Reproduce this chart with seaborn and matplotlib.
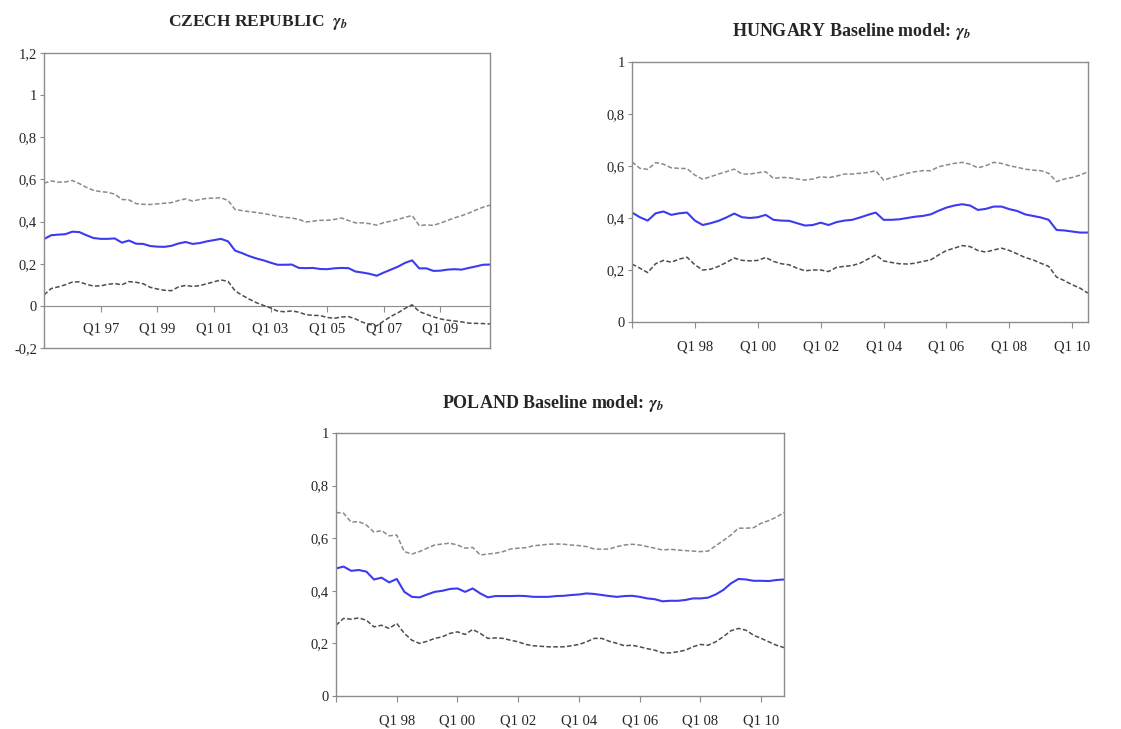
import matplotlib
matplotlib.use("Agg")
import matplotlib.pyplot as plt
import seaborn as sns
from matplotlib.ticker import FuncFormatter

sns.set_style("white")
plt.rcParams['font.family'] = ['Liberation Serif', 'DejaVu Serif']
plt.rcParams['mathtext.fontset'] = 'stix'

# Czech Republic, Q1 1995 - Q4 2010
cz_mid = [0.317, 0.335, 0.338, 0.34, 0.352, 0.350, 0.335, 0.322, 0.318, 0.318, 0.32, 0.30, 0.31, 0.295,
          0.294, 0.284, 0.281, 0.28, 0.285, 0.296, 0.303, 0.294, 0.298, 0.306, 0.312, 0.318, 0.306, 0.262,
          0.25, 0.236, 0.225, 0.216, 0.205, 0.195, 0.195, 0.196, 0.18, 0.179, 0.18, 0.175, 0.174, 0.178,
          0.18, 0.179, 0.163, 0.158, 0.152, 0.143, 0.158, 0.172, 0.186, 0.204, 0.216, 0.178, 0.178, 0.166,
          0.167, 0.172, 0.174, 0.172, 0.18, 0.187, 0.195, 0.196]
cz_up = [0.582, 0.593, 0.587, 0.588, 0.595, 0.58, 0.562, 0.548, 0.542, 0.539, 0.53, 0.505, 0.503, 0.485,
         0.482, 0.481, 0.484, 0.487, 0.49, 0.5, 0.508, 0.497, 0.505, 0.51, 0.511, 0.513, 0.5, 0.457,
         0.452, 0.447, 0.443, 0.438, 0.432, 0.425, 0.42, 0.417, 0.41, 0.398, 0.402, 0.406, 0.406, 0.41,
         0.417, 0.405, 0.394, 0.394, 0.39, 0.383, 0.395, 0.402, 0.41, 0.42, 0.429, 0.381, 0.384, 0.382,
         0.393, 0.405, 0.418, 0.428, 0.44, 0.455, 0.468, 0.478]
cz_lo = [0.052, 0.082, 0.09, 0.1, 0.113, 0.114, 0.102, 0.094, 0.095, 0.102, 0.106, 0.1, 0.115, 0.112,
         0.105, 0.088, 0.08, 0.074, 0.072, 0.09, 0.097, 0.092, 0.096, 0.105, 0.114, 0.123, 0.116, 0.071,
         0.05, 0.032, 0.015, 0.002, -0.01, -0.025, -0.028, -0.024, -0.03, -0.042, -0.045, -0.046, -0.055,
         -0.059, -0.053, -0.051, -0.062, -0.078, -0.088, -0.095, -0.072, -0.05, -0.033, -0.012, 0.005,
         -0.027, -0.04, -0.052, -0.062, -0.068, -0.072, -0.076, -0.082, -0.083, -0.084, -0.086]

# Hungary, Q1 1996 - Q3 2010
hu_mid = [0.421, 0.403, 0.39, 0.418, 0.425, 0.412, 0.418, 0.421, 0.39, 0.373, 0.38, 0.389, 0.402, 0.417,
          0.403, 0.4, 0.403, 0.412, 0.393, 0.39, 0.389, 0.38, 0.371, 0.373, 0.382, 0.373, 0.384, 0.39,
          0.393, 0.402, 0.412, 0.421, 0.393, 0.393, 0.395, 0.4, 0.405, 0.408, 0.414, 0.428, 0.44, 0.448,
          0.453, 0.448, 0.431, 0.435, 0.444, 0.444, 0.434, 0.427, 0.414, 0.408, 0.402, 0.393, 0.354,
          0.352, 0.348, 0.344, 0.344]
hu_up = [0.616, 0.591, 0.587, 0.613, 0.607, 0.593, 0.591, 0.59, 0.565, 0.549, 0.559, 0.569, 0.578, 0.588,
         0.569, 0.569, 0.574, 0.578, 0.552, 0.556, 0.555, 0.55, 0.546, 0.55, 0.559, 0.555, 0.561, 0.569,
         0.569, 0.572, 0.575, 0.582, 0.546, 0.555, 0.563, 0.572, 0.578, 0.582, 0.582, 0.597, 0.604, 0.61,
         0.614, 0.607, 0.593, 0.601, 0.614, 0.61, 0.601, 0.595, 0.588, 0.584, 0.582, 0.572, 0.54, 0.55,
         0.556, 0.565, 0.578]
hu_lo = [0.223, 0.207, 0.19, 0.224, 0.237, 0.23, 0.242, 0.249, 0.22, 0.2, 0.203, 0.214, 0.229, 0.246,
         0.237, 0.235, 0.237, 0.248, 0.233, 0.224, 0.22, 0.207, 0.197, 0.2, 0.2, 0.194, 0.21, 0.214,
         0.217, 0.226, 0.242, 0.258, 0.235, 0.229, 0.224, 0.223, 0.226, 0.233, 0.239, 0.258, 0.275,
         0.284, 0.294, 0.29, 0.275, 0.269, 0.277, 0.284, 0.275, 0.262, 0.248, 0.239, 0.226, 0.214,
         0.173, 0.159, 0.143, 0.13, 0.111]

# Poland, Q1 1996 - Q4 2010
pl_mid = [0.485, 0.492, 0.476, 0.479, 0.473, 0.443, 0.45, 0.432, 0.445, 0.396, 0.377, 0.375, 0.386, 0.396,
          0.4, 0.407, 0.409, 0.396, 0.409, 0.39, 0.375, 0.38, 0.38, 0.38, 0.381, 0.38, 0.377, 0.377,
          0.377, 0.38, 0.381, 0.384, 0.386, 0.39, 0.388, 0.384, 0.38, 0.377, 0.38, 0.381, 0.377, 0.371,
          0.368, 0.36, 0.362, 0.362, 0.365, 0.371, 0.371, 0.374, 0.386, 0.403, 0.428, 0.445, 0.443,
          0.438, 0.438, 0.437, 0.441, 0.443]
pl_up = [0.698, 0.695, 0.661, 0.663, 0.65, 0.623, 0.629, 0.609, 0.612, 0.549, 0.54, 0.549, 0.562, 0.574,
         0.578, 0.581, 0.574, 0.562, 0.565, 0.536, 0.54, 0.543, 0.549, 0.559, 0.562, 0.564, 0.571, 0.574,
         0.577, 0.578, 0.577, 0.574, 0.572, 0.568, 0.559, 0.558, 0.559, 0.568, 0.574, 0.577, 0.574,
         0.568, 0.562, 0.555, 0.558, 0.555, 0.553, 0.551, 0.549, 0.551, 0.571, 0.591, 0.612, 0.638,
         0.638, 0.64, 0.657, 0.667, 0.68, 0.698]
pl_lo = [0.269, 0.295, 0.292, 0.297, 0.288, 0.263, 0.269, 0.257, 0.276, 0.238, 0.212, 0.2, 0.208, 0.219,
         0.225, 0.238, 0.244, 0.234, 0.253, 0.238, 0.219, 0.221, 0.219, 0.212, 0.206, 0.196, 0.191, 0.189,
         0.187, 0.187, 0.187, 0.191, 0.196, 0.206, 0.219, 0.219, 0.208, 0.2, 0.191, 0.193, 0.187, 0.18,
         0.174, 0.164, 0.164, 0.168, 0.174, 0.187, 0.196, 0.193, 0.206, 0.225, 0.248, 0.257, 0.25, 0.231,
         0.219, 0.206, 0.193, 0.184]

cz_labels = ['Q1 97', 'Q1 99', 'Q1 01', 'Q1 03', 'Q1 05', 'Q1 07', 'Q1 09']
hu_labels = ['', 'Q1 98', 'Q1 00', 'Q1 02', 'Q1 04', 'Q1 06', 'Q1 08', 'Q1 10']
pl_labels = ['', 'Q1 98', 'Q1 00', 'Q1 02', 'Q1 04', 'Q1 06', 'Q1 08', 'Q1 10']

GRAY = '#8c8c8c'
comma = FuncFormatter(lambda v, p: ('%g' % round(v, 2)).replace('.', ','))


def draw(ax, mid, up, lo):
    x = list(range(len(mid)))
    sns.lineplot(x=x, y=up, ax=ax, color='#8a8a8a', lw=1.1, linestyle=(0, (3, 1.5)))
    sns.lineplot(x=x, y=lo, ax=ax, color='#4d4d4d', lw=1.1, linestyle=(0, (3, 1.5)))
    sns.lineplot(x=x, y=mid, ax=ax, color='#3b3bf0', lw=1.5)
    ax.set_xlim(0, len(mid) - 1)
    for s in ax.spines.values():
        s.set_color(GRAY)
        s.set_linewidth(1.0)
    ax.yaxis.set_major_formatter(comma)
    ax.tick_params(axis='y', left=True, length=3, color=GRAY, labelsize=10.5, pad=2)
    ax.set_xlabel('')
    ax.set_ylabel('')


fig = plt.figure(figsize=(11.21, 7.29), dpi=100)

# Czech Republic
ax1 = fig.add_axes([44 / 1121, 1 - 348 / 729, 446 / 1121, 295 / 729])
draw(ax1, cz_mid, cz_up, cz_lo)
ax1.set_ylim(-0.2, 1.2)
ax1.set_yticks([-0.2, 0, 0.2, 0.4, 0.6, 0.8, 1.0, 1.2])
ax1.set_xticks([])
sec = ax1.secondary_xaxis(0.2 / 1.4)
sec.spines['bottom'].set_color(GRAY)
sec.set_xticks(list(range(8, 64, 8)))
sec.set_xticklabels(cz_labels)
sec.tick_params(axis='x', direction='out', length=4, color=GRAY, labelsize=10.5, pad=8)

# Hungary
ax2 = fig.add_axes([632 / 1121, 1 - 322 / 729, 456 / 1121, 260 / 729])
draw(ax2, hu_mid, hu_up, hu_lo)
ax2.set_ylim(0, 1)
ax2.set_yticks([0, 0.2, 0.4, 0.6, 0.8, 1.0])
ax2.set_xticks(list(range(0, 58, 8)))
ax2.set_xticklabels(hu_labels)
ax2.tick_params(axis='x', bottom=True, length=4, color=GRAY, labelsize=10.5, pad=9)

# Poland
ax3 = fig.add_axes([336 / 1121, 1 - 696 / 729, 448 / 1121, 263 / 729])
draw(ax3, pl_mid, pl_up, pl_lo)
ax3.set_ylim(0, 1)
ax3.set_yticks([0, 0.2, 0.4, 0.6, 0.8, 1.0])
ax3.set_xticks(list(range(0, 60, 8)))
ax3.set_xticklabels(pl_labels)
ax3.tick_params(axis='x', bottom=True, length=4, color=GRAY, labelsize=10.5, pad=9)

gam = r'$\mathbfit{\gamma}_{\mathbfit{b}}$'
fig.text(258 / 1121, 1 - 23 / 729, 'CZECH REPUBLIC  ' + gam, ha='center', va='center',
         fontsize=12.5, fontweight='bold')
fig.text(852 / 1121, 1 - 32 / 729, 'HUNGARY Baseline model: ' + gam, ha='center', va='center',
         fontsize=13, fontweight='bold')
fig.text(553 / 1121, 1 - 403 / 729, 'POLAND Baseline model: ' + gam, ha='center', va='center',
         fontsize=13, fontweight='bold')

fig.savefig('out.png', dpi=100)
